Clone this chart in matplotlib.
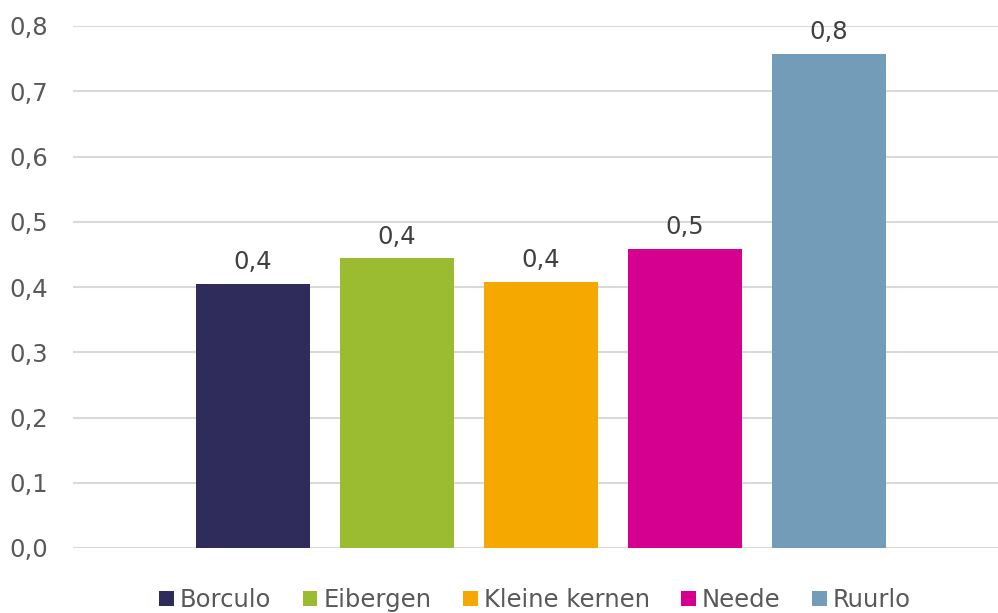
import matplotlib.pyplot as plt
import numpy as np

plt.rcParams['font.family'] = ['DejaVu Sans']

# kernen en gemeten waarden
kernen = ['Borculo', 'Eibergen', 'Kleine kernen', 'Neede', 'Ruurlo']
waarden = [0.405, 0.444, 0.408, 0.458, 0.757]
kleuren = ['#2F2C5C', '#9BBB30', '#F5A800', '#D5008F', '#729CB8']
yticks = [0.0, 0.1, 0.2, 0.3, 0.4, 0.5, 0.6, 0.7, 0.8]

fig = plt.figure(figsize=(9.98, 6.13), dpi=100)
ax = fig.add_axes([73 / 998, 1 - 548 / 613, 925 / 998, (548 - 26) / 613])

x = np.arange(len(kernen))
bars = ax.bar(x, waarden, width=114 / 144, color=kleuren, label=kernen, zorder=3)

for b, v in zip(bars, waarden):
    ax.annotate(('%.1f' % v).replace('.', ','),
                (b.get_x() + b.get_width() / 2, v),
                xytext=(0, 7), textcoords='offset points',
                ha='center', va='bottom', fontsize=17.5, color='#404040',
                annotation_clip=False)

ax.set_xlim(-1.25, 5.174)
ax.set_ylim(0, 0.8)
ax.set_yticks(yticks)
ax.set_yticklabels([('%.1f' % t).replace('.', ',') for t in yticks])
ax.tick_params(axis='y', length=0, pad=18, labelsize=17.5, labelcolor='#595959')
ax.set_xticks([])
ax.grid(axis='y', color='#D9D9D9', linewidth=1.5, zorder=0)
for s in ax.spines.values():
    s.set_visible(False)

fig.legend(bars, kernen, loc='center', bbox_to_anchor=(0.536, 1 - 600 / 613),
           ncol=5, frameon=False, fontsize=17.5, labelcolor='#595959',
           handlelength=0.6, handleheight=0.6, handletextpad=0.25,
           columnspacing=1.3)

plt.savefig('out.png', dpi=100)
